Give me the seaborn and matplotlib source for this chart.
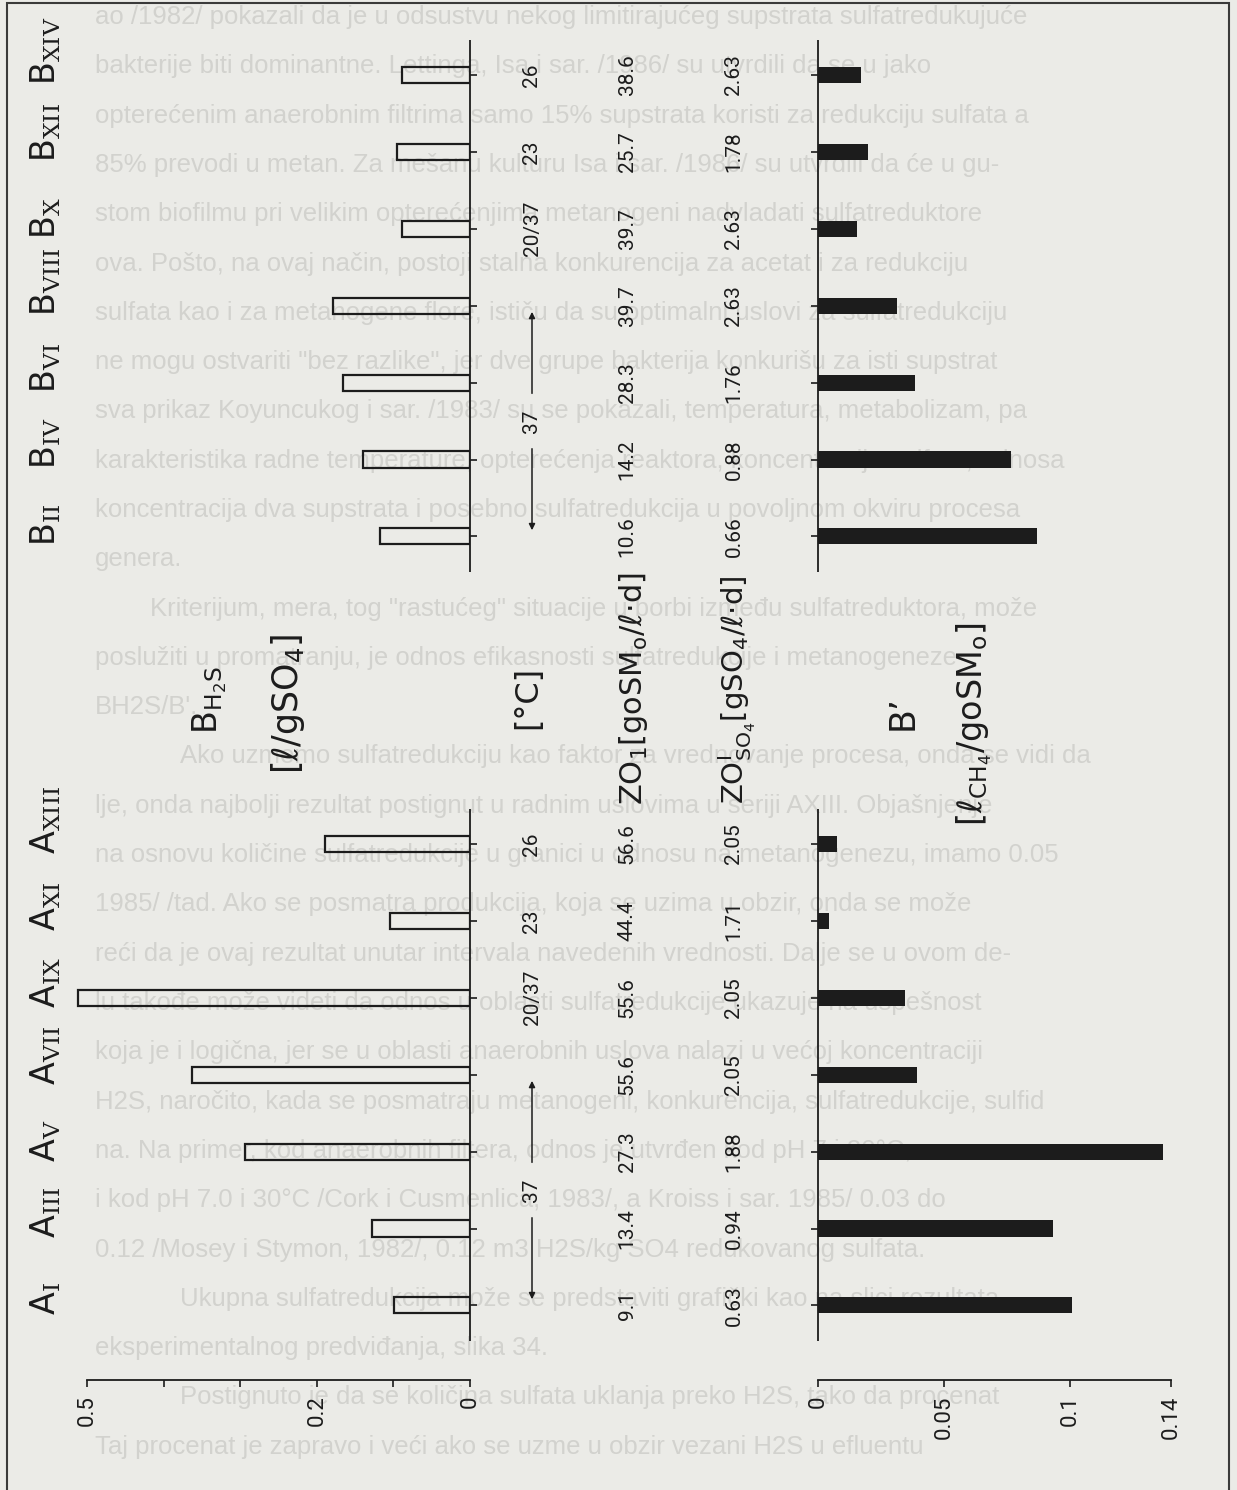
import numpy as np
import pandas as pd
import matplotlib
matplotlib.use("Agg")
import matplotlib.pyplot as plt
import matplotlib.transforms as mtransforms
from matplotlib.patches import Rectangle
import seaborn as sns

# ---------------------------------------------------------------- data
groups = ["B"] * 7 + ["A"] * 7
numerals = ["XIV", "XII", "X", "VIII", "VI", "IV", "II",
            "XIII", "XI", "IX", "VII", "V", "III", "I"]
b_h2s = [0.089, 0.095, 0.089, 0.179, 0.166, 0.140, 0.117,
         0.189, 0.104, 0.512, 0.363, 0.294, 0.128, 0.099]
b_ch4 = [0.0171, 0.0198, 0.0155, 0.0313, 0.0385, 0.0766, 0.0869,
         0.0075, 0.0044, 0.0345, 0.0393, 0.1370, 0.0933, 0.1008]
temperature = ["26", "23", "20/37", "37", "37", "37", "37",
               "26", "23", "20/37", "37", "37", "37", "37"]
zo1 = ["38.6", "25.7", "39.7", "39.7", "28.3", "14.2", "10.6",
       "56.6", "44.4", "55.6", "55.6", "27.3", "13.4", "9.1"]
zo_so4 = ["2.63", "1.78", "2.63", "2.63", "1.76", "0.88", "0.66",
          "2.05", "1.71", "2.05", "2.05", "1.88", "0.94", "0.63"]
h2s_ticks = [0, 0.1, 0.2, 0.3, 0.4, 0.5]
h2s_ticklabels = ["0", "", "0.2", "", "", "0.5"]
ch4_ticks = [0, 0.05, 0.1, 0.14]
ch4_ticklabels = ["0", "0.05", "0.1", "0.14"]

# running text of the page printed around the figure
page_lines = [
    (95, "ao /1982/ pokazali da je u odsustvu nekog limitirajućeg supstrata sulfatredukujuće"),
    (95, "bakterije biti dominantne. Lettinga, Isa i sar. /1986/ su utvrdili da se u jako"),
    (95, "opterećenim anaerobnim filtrima samo 15% supstrata koristi za redukciju sulfata a"),
    (95, "85% prevodi u metan. Za mešanu kulturu Isa i sar. /1986/ su utvrdili da će u gu-"),
    (95, "stom biofilmu pri velikim opterećenjima metanogeni nadvladati sulfatreduktore"),
    (95, "ova. Pošto, na ovaj način, postoji stalna konkurencija za acetat i za redukciju"),
    (95, "sulfata kao i za metanogene flore, ističu da su optimalni uslovi za sulfatredukciju"),
    (95, "ne mogu ostvariti \"bez razlike\", jer dve grupe bakterija konkurišu za isti supstrat"),
    (95, "sva prikaz Koyuncukog i sar. /1983/ su se pokazali, temperatura, metabolizam, pa"),
    (95, "karakteristika radne temperature, opterećenja reaktora, koncentracija sulfata, odnosa"),
    (95, "koncentracija dva supstrata i posebno sulfatredukcija u povoljnom okviru procesa"),
    (95, "genera."),
    (150, "Kriterijum, mera, tog \"rastućeg\" situacije u borbi između sulfatreduktora, može"),
    (95, "poslužiti u promatranju, je odnos efikasnosti sulfatredukcije i metanogeneze"),
    (95, "BH2S/B'."),
    (180, "Ako uzmemo sulfatredukciju kao faktor za vrednovanje procesa, onda se vidi da"),
    (95, "lje, onda najbolji rezultat postignut u radnim uslovima u seriji AXIII. Objašnjenje"),
    (95, "na osnovu količine sulfatredukcije u granici u odnosu na metanogenezu, imamo 0.05"),
    (95, "1985/ /tad. Ako se posmatra produkcija, koja se uzima u obzir, onda se može"),
    (95, "reći da je ovaj rezultat unutar intervala navedenih vrednosti. Dalje se u ovom de-"),
    (95, "lu takođe može videti da odnos u oblasti sulfatredukcije ukazuje na uspešnost"),
    (95, "koja je i logična, jer se u oblasti anaerobnih uslova nalazi u većoj koncentraciji"),
    (95, "H2S, naročito, kada se posmatraju metanogeni, konkurencija, sulfatredukcije, sulfid"),
    (95, "na. Na primer, kod anaerobnih filtera, odnos je utvrđen kod pH 7 i 30°C,"),
    (95, "i kod pH 7.0 i 30°C /Cork i Cusmenlica, 1983/, a Kroiss i sar. 1985/ 0.03 do"),
    (95, "0.12 /Mosey i Stymon, 1982/, 0.12 m3 H2S/kg SO4 redukovanog sulfata."),
    (180, "Ukupna sulfatredukcija može se predstaviti grafički kao na slici rezultata"),
    (95, "eksperimentalnog predviđanja, slika 34."),
    (180, "Postignuto je da se količina sulfata uklanja preko H2S, tako da procenat"),
    (95, "Taj procenat je zapravo i veći ako se uzme u obzir vezani H2S u efluentu"),
]

# ---------------------------------------------------------------- style
sns.set_style("ticks")
plt.rcParams["font.family"] = ["Roboto", "DejaVu Sans"]
plt.rcParams["mathtext.fontset"] = "custom"
plt.rcParams["mathtext.rm"] = "DejaVu Serif"
plt.rcParams["mathtext.sf"] = "DejaVu Sans"
plt.rcParams["mathtext.it"] = "DejaVu Sans:italic"
plt.rcParams["mathtext.bf"] = "DejaVu Sans:bold"
plt.rcParams["mathtext.default"] = "regular"

PAPER = "#ebebe7"
INK = "#1c1c1c"
GHOST = "#d2d2ce"

W, H = 1237, 1490
fig = plt.figure(figsize=(W / 100, H / 100), dpi=100, facecolor=PAPER)


def fx(px):
    return px / W


def fy(py):
    return 1 - py / H


# row positions: two groups separated by a gap of three empty rows
gap = 3
pos = np.array([i if g == "B" else i + gap for i, g in enumerate(groups)], dtype=float)
df = pd.DataFrame({"pos": pos, "group": groups, "b_h2s": b_h2s, "b_ch4": b_ch4})

row0_px, pitch_px = 75.0, 76.9
top_px, base_px = 20.0, 1380.0
ylim = ((base_px - row0_px) / pitch_px, (top_px - row0_px) / pitch_px)

ax1 = fig.add_axes([fx(60), fy(base_px), fx(470) - fx(60), (base_px - top_px) / H])
ax2 = fig.add_axes([fx(818), fy(base_px), fx(1225) - fx(818), (base_px - top_px) / H])
for ax in (ax1, ax2):
    ax.set_facecolor("none")

sns.barplot(data=df, x="b_h2s", y="pos", orient="h", native_scale=True,
            width=0.21, fill=False, color=INK, linewidth=1.6,
            errorbar=None, ax=ax1)
sns.barplot(data=df, x="b_ch4", y="pos", orient="h", native_scale=True,
            width=0.21, color=INK, saturation=1, linewidth=0,
            errorbar=None, ax=ax2)

ax1.set_xlim((470 - 60) / 766.0, 0)
ax2.set_xlim(0, (1225 - 818) / 2521.0)

for ax, ticks, labels, side in ((ax1, h2s_ticks, h2s_ticklabels, "right"),
                                (ax2, ch4_ticks, ch4_ticklabels, "left")):
    ax.set_ylim(*ylim)
    ax.set_xlabel("")
    ax.set_ylabel("")
    for s in ("top", "left", "right"):
        ax.spines[s].set_visible(False)
    ax.spines["bottom"].set_bounds(min(ticks), max(ticks))
    ax.spines["bottom"].set_linewidth(1.3)
    ax.spines["bottom"].set_color(INK)
    ax.set_xticks(ticks)
    ax.set_xticklabels(labels)
    ax.tick_params(axis="x", direction="out", length=5, width=1.2, color=INK,
                   labelrotation=90, labelsize=16, pad=6, labelcolor=INK)
    ax.set_yticks(pos)
    ax.set_yticklabels([])
    if side == "right":
        ax.yaxis.tick_right()
    ax.tick_params(axis="y", direction="out", length=5, width=1.2, color=INK)
    # value axis drawn as one segment per group
    for g in ("B", "A"):
        p = df.loc[df.group == g, "pos"]
        ax.vlines(0, p.min() - 0.45, p.max() + 0.46, color=INK, lw=1.3,
                  clip_on=False)

# ---------------------------------------------------------------- labels
row_tr = mtransforms.blended_transform_factory(fig.transFigure, ax1.transData)
num_kw = dict(rotation=90, rotation_mode="anchor", ha="center", va="center",
              fontsize=15, color=INK, family=["Roboto"], transform=row_tr)

for g, p, num in zip(groups, pos, numerals):
    fig.text(fx(56), p + 0.13, "$\\mathsf{%s}_{\\mathrm{%s}}$" % (g, num),
             rotation=90, rotation_mode="anchor", ha="left", va="baseline",
             fontsize=24, color=INK, transform=row_tr)

for p, t, a, b in zip(pos, temperature, zo1, zo_so4):
    if t != "37":
        fig.text(fx(532), p, t, **num_kw)
    fig.text(fx(627), p, a, **num_kw)
    fig.text(fx(734), p, b, **num_kw)

# 37 °C runs: label in the middle, arrows to the first and last rows
for g in ("B", "A"):
    run = df.loc[(df.group == g) & (np.array(temperature) == "37"), "pos"]
    first, last = run.min(), run.max()
    mid = (first + last) / 2
    fig.text(fx(532), mid, "37", **num_kw)
    for start, end in ((mid - 0.36, first + 0.08), (mid + 0.36, last - 0.08)):
        ax1.annotate("", xy=(fx(532), end), xytext=(fx(532), start),
                     xycoords=row_tr, textcoords=row_tr, annotation_clip=False,
                     arrowprops=dict(arrowstyle="-|>", color=INK, lw=1.1,
                                     mutation_scale=9, shrinkA=0, shrinkB=0))

lab_kw = dict(rotation=90, rotation_mode="anchor", ha="center", va="baseline",
              color=INK, family=["DejaVu Sans"])
fig.text(fx(217), fy(700), "$B_{H_2S}$", fontsize=24, **lab_kw)
fig.text(fx(298), fy(704), "[ℓ/gSO$_4$]", fontsize=25, **lab_kw)
fig.text(fx(536), fy(697), "[°C]", fontsize=23, **lab_kw)
fig.text(fx(642), fy(689), "ZO$_1$[goSM$_o$/ℓ·d]", fontsize=22, **lab_kw)
fig.text(fx(745), fy(690), "ZO$^{I}_{SO_4}$[gSO$_4$/ℓ·d]", fontsize=21, **lab_kw)
fig.text(fx(913), fy(713), "B’", fontsize=25, **lab_kw)
fig.text(fx(982), fy(724), "[ℓ$_{CH_4}$/goSM$_o$]", fontsize=24, **lab_kw)

# ---------------------------------------------------------------- page
for k, (x0, line) in enumerate(page_lines):
    fig.text(fx(x0), fy(17 + 49.3 * k), line, fontsize=18.5, color=GHOST,
             family=["Liberation Sans"], ha="left", va="center", zorder=-5)

fig.add_artist(Rectangle((fx(7), -0.01), fx(1229) - fx(7), fy(3) + 0.01,
                         transform=fig.transFigure, fill=False, lw=1.5,
                         edgecolor="#3a3a3a", zorder=10))

fig.savefig("out.png", dpi=100, facecolor=PAPER)
